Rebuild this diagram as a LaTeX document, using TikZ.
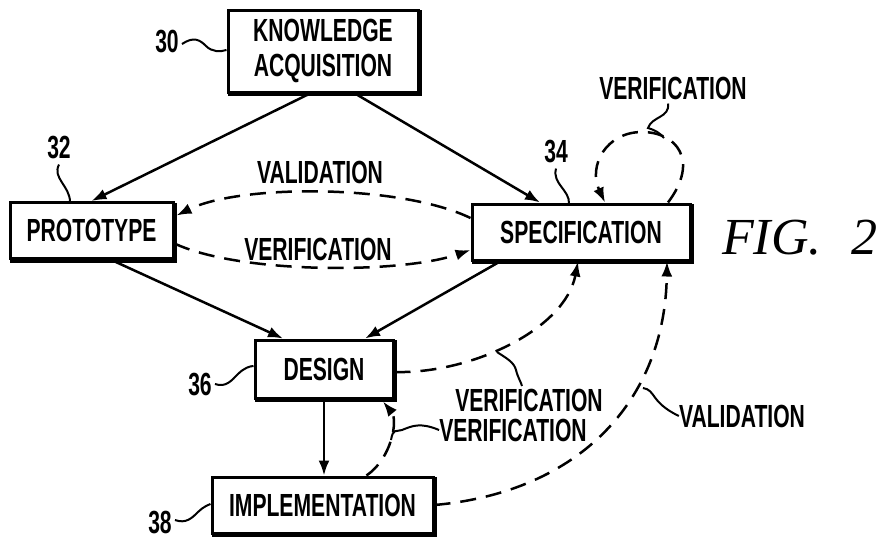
\documentclass[tikz,border=0pt]{standalone}
\usepackage{fontspec}
\newfontfamily\labfont[FakeStretch=0.66]{Liberation Sans}
\newfontfamily\figfont{Liberation Serif}
\usetikzlibrary{arrows.meta,calc}
\begin{document}
\begin{tikzpicture}[x=1pt,y=-1pt,
  stagebox/.style={draw,line width=3pt,inner sep=0pt,align=center,
    font=\labfont\bfseries\fontsize{32}{35}\selectfont},
  tag/.style={inner sep=0pt,font=\labfont\bfseries\fontsize{32}{34}\selectfont},
  flow/.style={line width=2.5pt,-{Latex[length=15pt,width=11pt]}},
  check/.style={line width=2.5pt,dash pattern=on 16pt off 10pt,
    -{Latex[length=15pt,width=11pt]}},
  leader/.style={line width=2pt},
  heavyedge/.style={line width=2.5pt}]
\useasboundingbox (0,0) rectangle (896,539);
\fill[white] (0,0) rectangle (896,539);

% stages
\node[stagebox,minimum width=190pt,minimum height=82pt] (ka) at (323,51) {KNOWLEDGE\\ACQUISITION};
\node[stagebox,minimum width=163pt,minimum height=56pt] (proto) at (91.5,230.5) {PROTOTYPE};
\node[stagebox,minimum width=218pt,minimum height=56pt] (spec) at (581,232) {SPECIFICATION};
\node[stagebox,minimum width=138pt,minimum height=58pt] (design) at (324,369) {DESIGN};
\node[stagebox,minimum width=221pt,minimum height=56pt] (impl) at (322.5,505) {IMPLEMENTATION};

% heavier lower and right edges of every box
\foreach \b in {ka,proto,spec,design,impl}
  \draw[heavyedge] ([xshift=1.5pt,yshift=-1.5pt]\b.south west)
    -- ([xshift=1.5pt,yshift=-1.5pt]\b.south east)
    -- ([xshift=1.5pt,yshift=-1.5pt]\b.north east);

% reference numerals
\node[tag] (n30) at (167,42) {30};
\node[tag] (n32) at (59,148) {32};
\node[tag] (n34) at (556,152) {34};
\node[tag] (n36) at (200,384) {36};
\node[tag] (n38) at (160,522) {38};

\draw[leader] (n30.east) ++(3,2) .. controls (194,36) and (200,40) .. (206,46)
  .. controls (212,52) and (220,52) .. (ka.west |- 0,50);
\draw[leader] (n32.south) ++(0,5) .. controls (52,178) and (70,186) .. (70,202);
\draw[leader] (n34.south) ++(0,5) .. controls (552,184) and (570,190) .. (569,204);
\draw[leader] (n36.east) ++(3,0) .. controls (226,388) and (232,380) .. (238,374)
  .. controls (244,368) and (250,366) .. (design.west |- 0,366);
\draw[leader] (n38.east) ++(3,-2) .. controls (186,524) and (192,518) .. (198,512)
  .. controls (203,507) and (208,505) .. (impl.west |- 0,504);

% development flow
\draw[flow] ($(ka.south)+(-13,0)$) -- (proto.north);
\draw[flow] ($(ka.south)+(32,0)$) -- ($(spec.north)+(-41,0)$);
\draw[flow] ($(proto.south)+(20,0)$) -- ($(design.north)+(-41,0)$);
\draw[flow] ($(spec.south)+(-81,0)$) -- ($(design.north)+(41,0)$);
\draw[flow] (design.south) -- (design.south |- impl.north);

% checks between stages
\draw[check] ($(spec.west)+(0,-14)$) .. controls (400,184) and (240,184) .. ($(proto.east)+(2,-15)$);
\draw[check] ($(proto.east)+(0,13)$) .. controls (240,274) and (400,274) .. ($(spec.west)+(0,18)$);
\draw[check] ($(spec.north)+(87,0)$) .. controls (700,160) and (676,132) .. (642,132)
  .. controls (606,132) and (588,166) .. ($(spec.north)+(24,0)$);
\draw[check] ($(design.east)+(0,3)$) .. controls (470,374) and (565,330) .. ($(spec.south)+(-3,0)$);
\draw[check] ($(impl.north)+(44,0)$) .. controls (392,458) and (398,420) .. ($(design.south)+(59,2)$);
\draw[check] (impl.east) .. controls (580,492) and (665,400) .. ($(spec.south)+(86,0)$);

% check labels
\node[tag] (lval) at (320,172) {VALIDATION};
\node[tag] (lver) at (318,249) {VERIFICATION};
\node[tag] (lself) at (673,88) {VERIFICATION};
\node[tag] (lds) at (529,400) {VERIFICATION};
\node[tag] (lid) at (513,430) {VERIFICATION};
\node[tag] (lis) at (742,416) {VALIDATION};

\draw[leader] (lself.south) ++(-5,4) .. controls (670,118) and (652,116) .. (648,128)
  .. controls (655,130) and (660,133) .. (664,138);
\draw[leader] (497,352) .. controls (506,358) and (514,362) .. (516,370)
  .. controls (518,378) and (521,382) .. (522,386);
\draw[leader] (391,440) .. controls (393,428) and (396,432) .. (402,430)
  .. controls (412,426) and (420,422) .. (lid.west);
\draw[leader] (643,388) .. controls (656,390) and (650,402) .. (lis.west);

% figure caption
\node[anchor=west,inner sep=0pt,font=\figfont\itshape\fontsize{52}{52}\selectfont] (fig) at (722,238) {FIG.\hspace{30pt}2};
\end{tikzpicture}
\end{document}
